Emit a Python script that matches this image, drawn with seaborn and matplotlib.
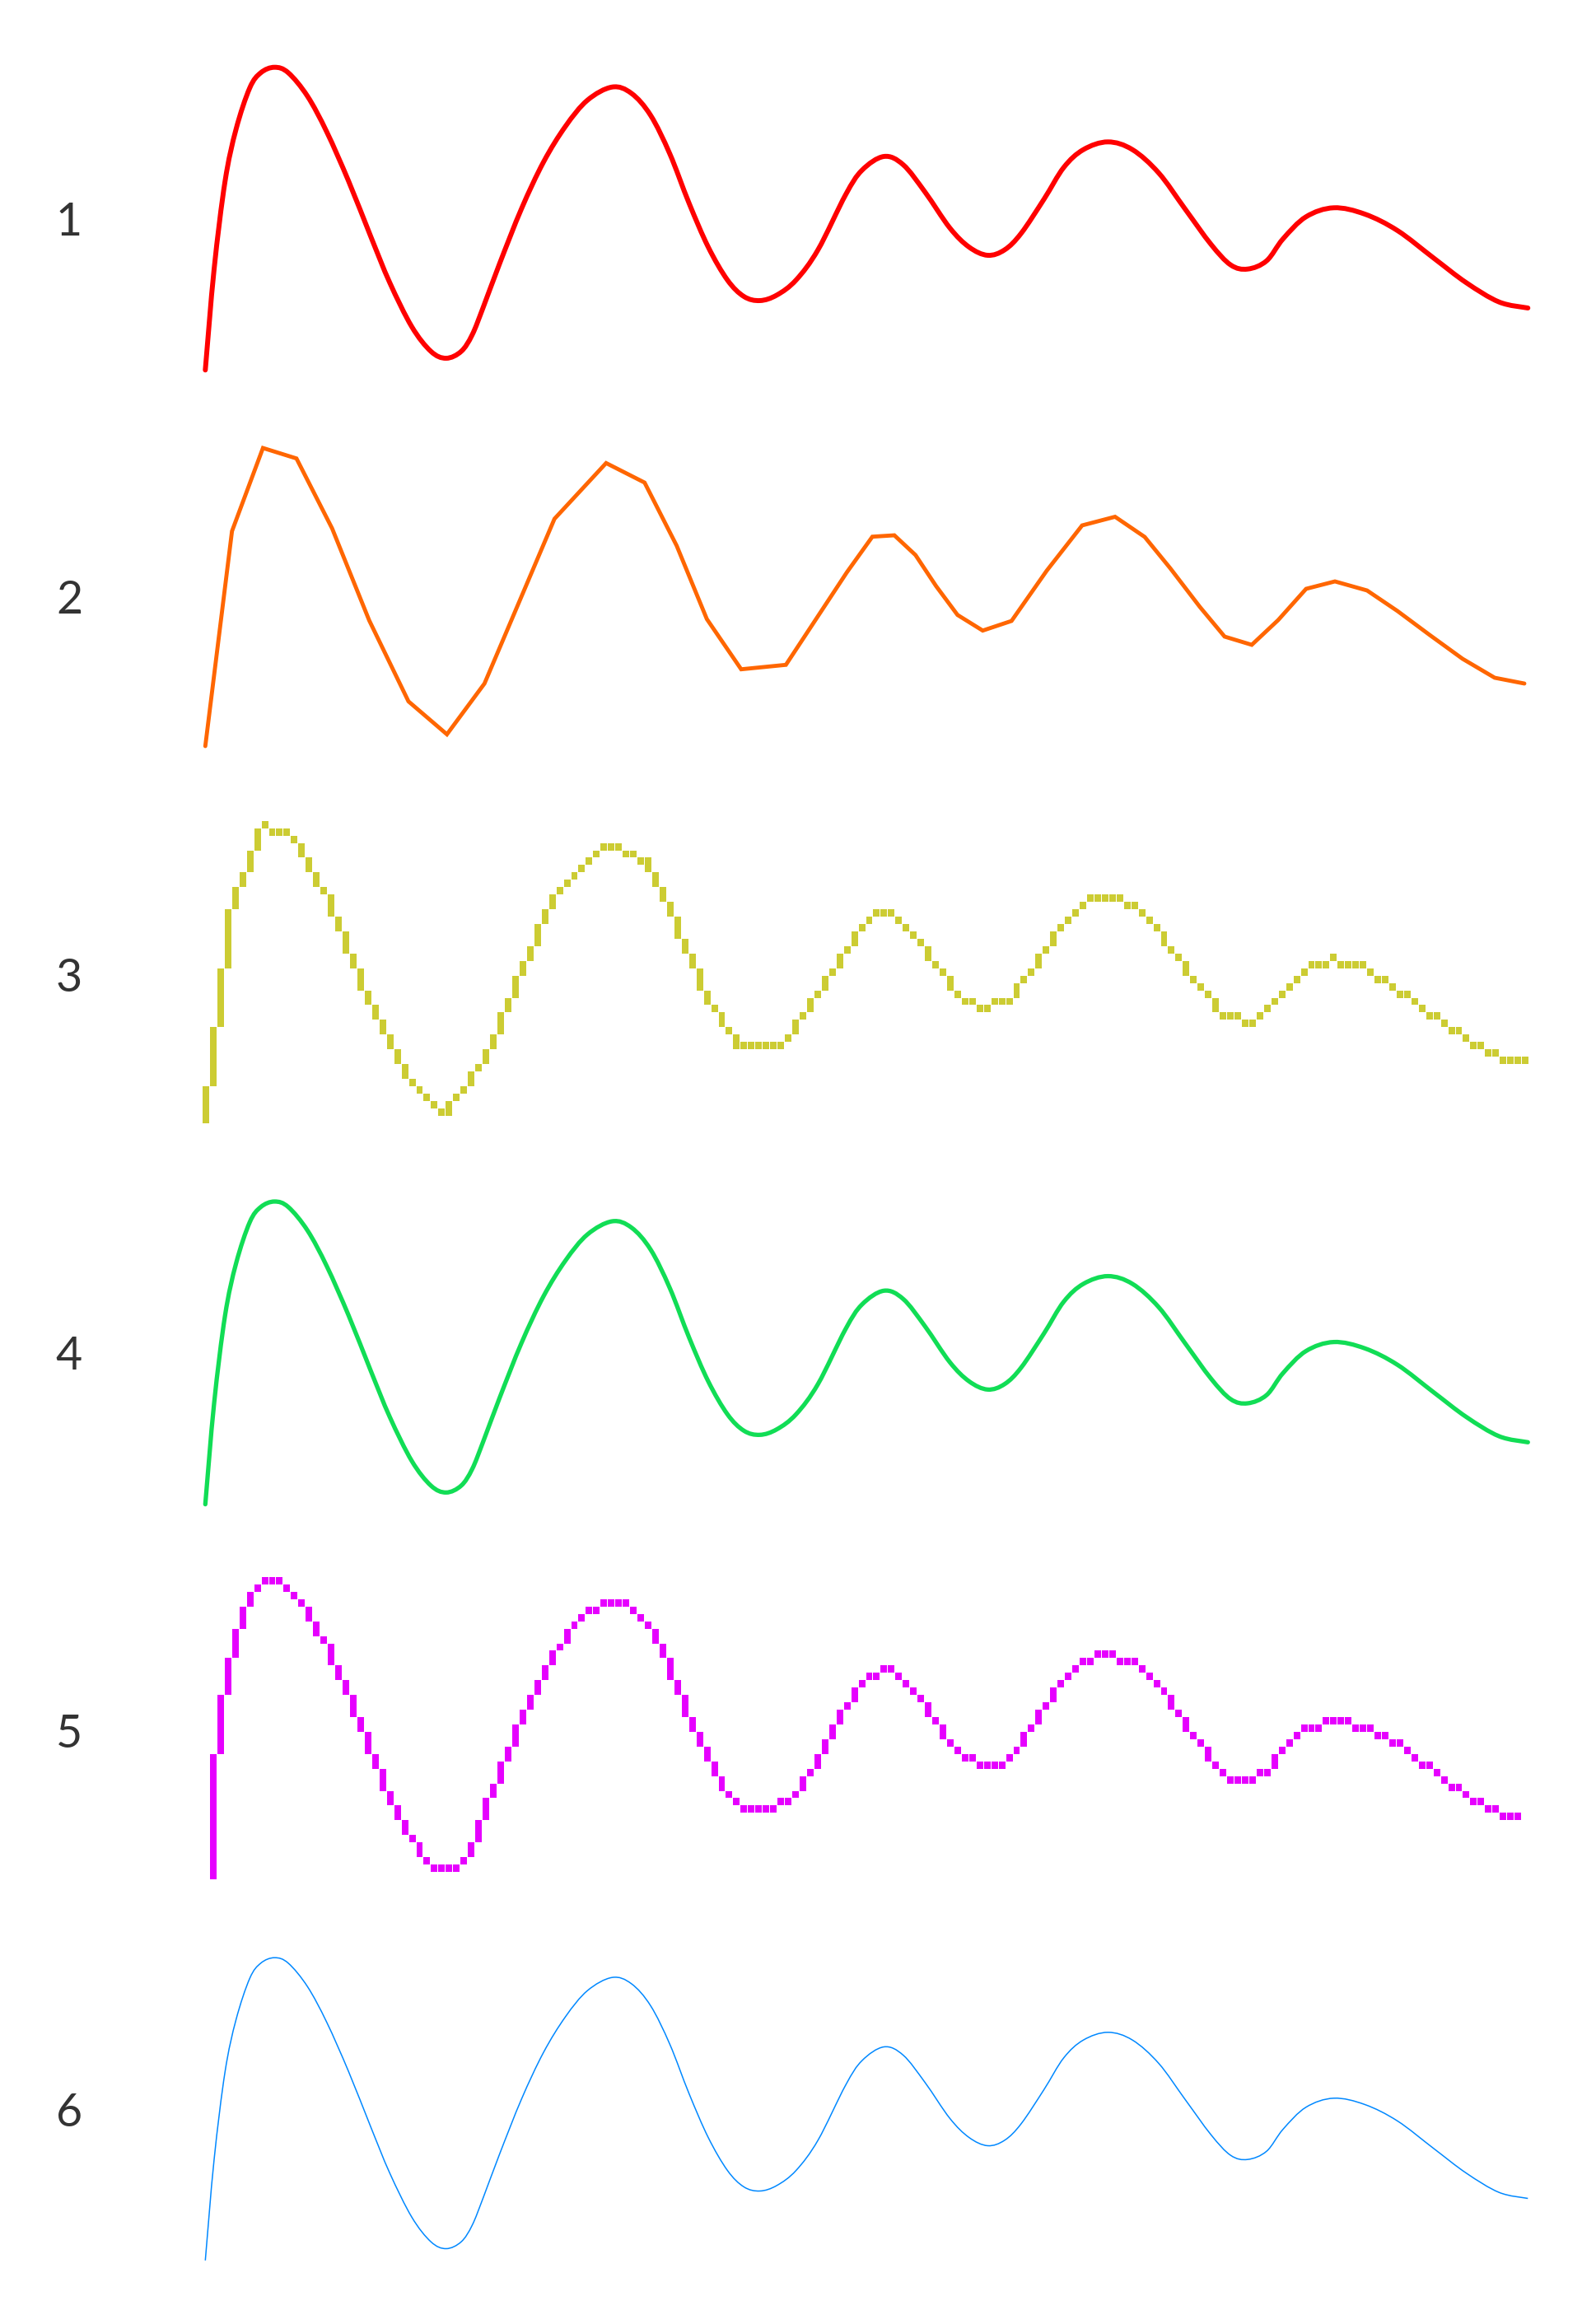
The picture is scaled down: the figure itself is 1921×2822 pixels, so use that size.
import numpy as np
import pandas as pd
import seaborn as sns
import matplotlib.pyplot as plt
from matplotlib.path import Path
from matplotlib.patches import PathPatch

### Data (pixel units; v = height above the row's centre line)

smooth_x = [249.3, 260, 273.3, 286.7, 303.3, 316.7, 333.3, 350, 373.3, 396.7,
            423.3, 450, 473.3, 500, 523.3, 541.7, 560, 573.3, 586.7, 606.7,
            633.3, 660, 686.7, 713.3, 743.3, 766.7, 790, 813.3, 836.7, 860,
            883.3, 903.3, 922.7, 943.3, 966.7, 993.3, 1026.7, 1046.7, 1073.3, 1096.7,
            1123.3, 1153.3, 1176.7, 1199.3, 1220, 1240, 1267.8, 1291.7, 1315.5, 1345.3,
            1375.1, 1407, 1438.7, 1470.5, 1494.4, 1515, 1538, 1558, 1585.8, 1619.6,
            1657.3, 1697, 1740.8, 1780.5, 1820.3, 1855.3]
smooth_v = [-182.8, -60.2, 46.5, 109.8, 159.8, 178.2, 184.8, 178.2, 149.8, 106.5,
            46.5, -20.2, -76.8, -130.2, -160.2, -168.5, -160.2, -140.2, -106.8, -53.5,
            13.2, 69.8, 113.2, 144.8, 160.8, 153.2, 126.5, 79.8, 19.8, -33.5,
            -73.5, -93.5, -98.5, -91.8, -73.5, -36.8, 29.8, 59.8, 76.5, 66.5,
            33.2, -10.2, -33.5, -43.5, -36.8, -16.8, 24.8, 63.2, 84.8, 94.2,
            84.8, 56.5, 13.2, -30.2, -55.2, -60.2, -50.2, -23.5, 3.2, 14.2,
            6.5, -13.5, -46.8, -76.8, -100.2, -107.5]

poly_x = [249.3, 281.7, 319.3, 360, 403.3, 448.3, 496, 542.7, 588.3, 673.3,
          736, 782.7, 821.7, 858.3, 900, 954.3, 1028.3, 1059.3, 1086, 1111.7,
          1136.7, 1162.7, 1193.3, 1228.3, 1271, 1314, 1354, 1390, 1421, 1457,
          1487, 1520, 1552, 1586, 1621, 1660, 1697, 1736, 1776, 1815, 1851]
poly_v = [-180.4, 80.6, 181.6, 168.9, 83.9, -27.7, -126.1, -166.1, -104.4, 95.6,
          163.3, 139.6, 62.9, -26.1, -87.1, -81.7, 30.6, 73.9, 75.6, 51.6,
          13.9, -21.1, -40.1, -28.4, 32.6, 87.6, 98.1, 73.6, 35.6, -11.4,
          -47.4, -57.4, -27.4, 10.6, 19.6, 8.6, -16.4, -45.4, -74.4, -97.4, -104.4]

row_labels = ["1", "2", "3", "4", "5", "6"]
row_colors = ["#ff0000", "#ff6600", "#cccc33", "#11dd55", "#e600ff", "#0088ff"]

poly = pd.DataFrame({"x": poly_x, "v": poly_v})

W, H = 1921, 2822
ROW_H = 459.1
CELL = 8.95


def smooth_path(xs, vs):
    # bezier path through the read points (catmull-rom handles)
    p = np.column_stack([xs, vs])
    ext = np.vstack([p[0], p, p[-1]])
    verts = [p[0]]
    codes = [Path.MOVETO]
    for i in range(len(p) - 1):
        p0, p1, p2, p3 = ext[i], ext[i + 1], ext[i + 2], ext[i + 3]
        verts += [p1 + (p2 - p0) / 6, p2 - (p3 - p1) / 6, p2]
        codes += [Path.CURVE4] * 3
    return Path(verts, codes)


def pixel_columns(xs, vs, x_start, x_end, cell, grab_start=False):
    """aliased 1-cell wide rendering of a line: one bar per column"""
    xs = np.asarray(xs)
    vs = np.asarray(vs)
    lefts, bottoms, heights = [], [], []
    a = x_start
    while a + cell * 0.5 < x_end:
        b = a + cell
        inner = vs[(xs > a) & (xs < b)]
        vals = np.concatenate([np.interp([a, b], xs, vs), inner])
        if grab_start and a == x_start:
            vals = np.append(vals, vs[0])
        lo, hi = vals.min(), vals.max()
        j0 = int(np.ceil(lo / cell - 0.5))
        j1 = int(np.ceil(hi / cell - 0.5)) - 1
        if j1 < j0:
            j0 = j1 = int(np.floor(np.interp(a + cell / 2, xs, vs) / cell))
        lefts.append(a)
        bottoms.append(j0 * cell)
        heights.append((j1 - j0 + 1) * cell)
        a = b
    return lefts, bottoms, heights


sns.set_theme(style="white")
plt.rcParams["font.family"] = ["Lato", "DejaVu Sans"]

fig = plt.figure(figsize=(W / 100, H / 100), dpi=100)
fig.patch.set_facecolor("white")

axes = []
for k in range(6):
    centre = 266.5 + ROW_H * k
    ax = fig.add_axes([0, 1 - (centre + ROW_H / 2) / H, 1, ROW_H / H])
    ax.axis("off")
    ax.text(84, -4, row_labels[k], ha="center", va="center",
            fontsize=40, color="#333333", fontweight="normal")
    axes.append(ax)

curve = smooth_path(smooth_x, smooth_v)

# 1: smooth thick red
axes[0].add_patch(PathPatch(curve, facecolor="none", edgecolor=row_colors[0],
                            lw=4.3, capstyle="round", joinstyle="round"))

# 2: coarse polyline
sns.lineplot(data=poly, x="x", y="v", ax=axes[1], sort=False, estimator=None,
             color=row_colors[1], linewidth=3.5, solid_capstyle="round",
             solid_joinstyle="miter")

# 3: aliased polyline
l, b, h = pixel_columns(poly_x, poly_v, 246, 1854, CELL)
axes[2].bar(l, h, bottom=b, width=CELL - 1, align="edge",
            color=row_colors[2], linewidth=0)

# 4: smooth green
axes[3].add_patch(PathPatch(curve, facecolor="none", edgecolor=row_colors[3],
                            lw=3.8, capstyle="round", joinstyle="round"))

# 5: aliased smooth curve
l, b, h = pixel_columns(smooth_x, smooth_v, 246 + CELL, 1846, CELL, grab_start=True)
axes[4].bar(l, h, bottom=b, width=CELL - 1, align="edge",
            color=row_colors[4], linewidth=0)

# 6: hairline
axes[5].add_patch(PathPatch(curve, facecolor="none", edgecolor=row_colors[5],
                            lw=1.1, capstyle="butt", joinstyle="round"))

for ax in axes:
    ax.set_xlim(0, W)
    ax.set_ylim(-ROW_H / 2, ROW_H / 2)
    ax.set_xlabel("")
    ax.set_ylabel("")

fig.savefig("out.png", dpi=100, facecolor="white")
